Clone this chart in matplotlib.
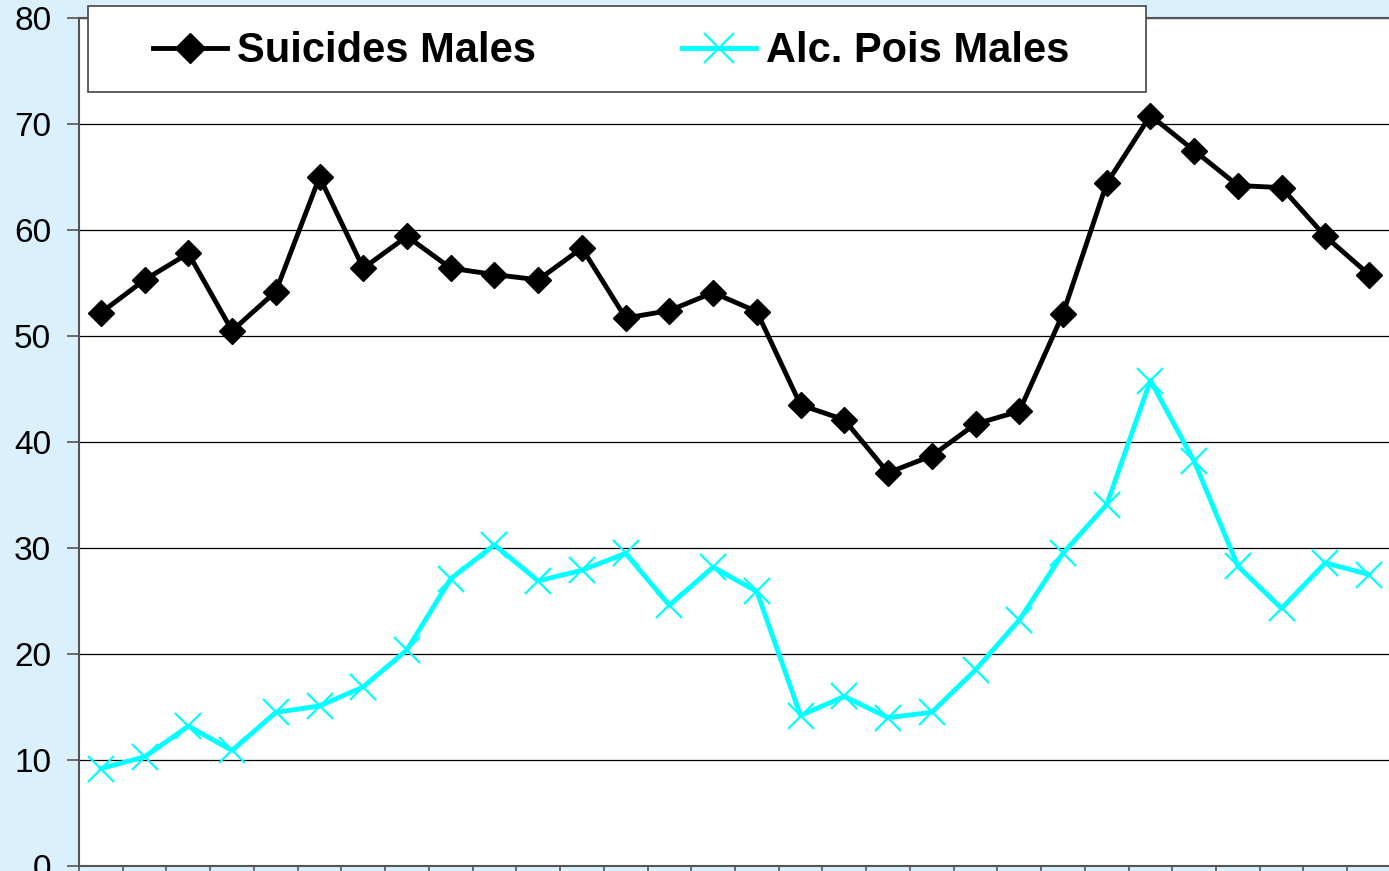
import matplotlib.pyplot as plt
from matplotlib.patches import Rectangle

# values (30 yearly points, no x labels shown)
suicides_males = [52.2, 55.3, 57.8, 50.5, 54.2, 65.0, 56.4, 59.4, 56.4, 55.8,
                  55.3, 58.3, 51.7, 52.4, 54.1, 52.3, 43.5, 42.1, 37.1, 38.7,
                  41.7, 42.9, 52.1, 64.4, 70.8, 67.5, 64.2, 64.0, 59.4, 55.8]
alc_pois_males = [9.2, 10.3, 13.2, 10.9, 14.5, 15.1, 16.9, 20.4, 27.1, 30.3,
                  26.9, 27.9, 29.5, 24.6, 28.2, 25.9, 14.2, 16.0, 14.0, 14.5,
                  18.5, 23.2, 29.5, 34.1, 45.8, 38.2, 28.3, 24.3, 28.6, 27.5]
y_ticks = [0, 10, 20, 30, 40, 50, 60, 70, 80]

plt.rcParams['font.family'] = ['Liberation Sans', 'DejaVu Sans']

fig = plt.figure(figsize=(13.89, 8.71), dpi=100, facecolor='#daf0fd')
ax = fig.add_axes([0.0569, 0.0057, 0.9445, 0.9736])
ax.set_facecolor('white')

x = [i + 0.5 for i in range(len(suicides_males))]
ax.plot(x, suicides_males, color='black', lw=3.5, marker='D', markersize=13,
        label='Suicides Males', zorder=3, clip_on=False)
ax.plot(x, alc_pois_males, color='#00ffff', lw=3.5, marker='x', markersize=19,
        markeredgewidth=1.6, label='Alc. Pois Males', zorder=2, clip_on=False)

ax.set_xlim(0, len(x))
ax.set_ylim(0, 80)
ax.set_yticks(y_ticks)
ax.set_xticks(range(len(x) + 1))
ax.set_xticklabels([])
ax.yaxis.grid(True, color='black', lw=0.9)
ax.set_axisbelow(True)
ax.tick_params(axis='y', labelsize=24, length=9, width=1.2, color='#555555', pad=11)
ax.tick_params(axis='x', length=8, width=1.2, color='#555555', direction='out')

for side in ['left', 'bottom', 'top']:
    ax.spines[side].set_color('#555555')
    ax.spines[side].set_linewidth(1.5)
ax.spines['right'].set_visible(False)

# legend box
box = Rectangle((0.0634, 0.8944), 0.7617, 0.0987, transform=fig.transFigure,
                facecolor='white', edgecolor='#444444', lw=1.2, zorder=4, clip_on=False)
ax.add_patch(box)
leg = ax.legend(loc='center left', bbox_to_anchor=(0.110, 0.941), bbox_transform=fig.transFigure,
                ncol=2, frameon=False, prop={'size': 30, 'weight': 'bold'}, borderpad=0,
                borderaxespad=0, handlelength=1.78, handletextpad=0.24, columnspacing=3.5,
                markerscale=1.15)
leg.set_zorder(5)

fig.savefig('out.png', dpi=100, facecolor=fig.get_facecolor())
